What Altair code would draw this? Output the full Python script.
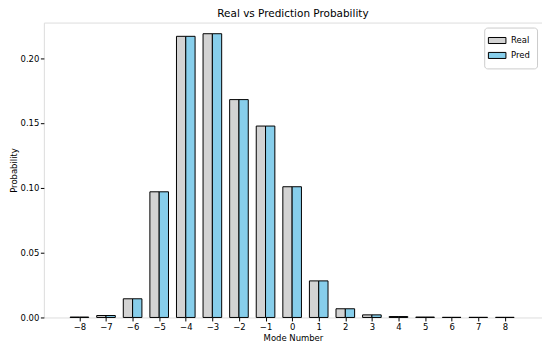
import altair as alt
import pandas as pd

modes = list(range(-8, 9))
real = [0.0003, 0.0015, 0.0144, 0.0969, 0.2168, 0.2188, 0.1680, 0.1476, 0.1008,
        0.0282, 0.0067, 0.0020, 0.0007, 0.0003, 0.0001, 0.0001, 0.0001]
pred = [0.0003, 0.0015, 0.0144, 0.0969, 0.2168, 0.2188, 0.1680, 0.1476, 0.1008,
        0.0282, 0.0067, 0.0020, 0.0007, 0.0003, 0.0001, 0.0001, 0.0001]
series_names = ["Real", "Pred"]
series_colors = ["lightgray", "skyblue"]

rows = []
for m, r, p in zip(modes, real, pred):
    rows.append({"mode": m, "series": "Real", "prob": r})
    rows.append({"mode": m, "series": "Pred", "prob": p})
df = pd.DataFrame(rows)

FONT = "DejaVu Sans"
BW = 0.35

chart = (
    alt.Chart(df)
    .transform_calculate(
        x0=f"datum.mode + (datum.series == 'Real' ? -{BW} : 0)",
        x1=f"datum.mode + (datum.series == 'Real' ? 0 : {BW})",
    )
    .mark_bar(stroke="black", strokeWidth=1, orient="vertical")
    .encode(
        x=alt.X(
            "x0:Q",
            scale=alt.Scale(domain=[-9.15, 9.21], nice=False, zero=False),
            axis=alt.Axis(
                values=modes,
                format="d",
                labelExpr="replace(datum.label, '-', '\u2212')",
                title="Mode Number",
                grid=False,
                domain=False,
                tickColor="black",
                tickSize=3.5,
                labelFontSize=8.5,
                labelColor="black",
                labelPadding=1.5,
                labelFont=FONT,
                titleFont=FONT,
                titleFontSize=8.5,
                titleFontWeight="normal",
                titleColor="black",
                titlePadding=3,
            ),
        ),
        x2="x1:Q",
        y=alt.Y(
            "prob:Q",
            scale=alt.Scale(domain=[0, 0.2274], nice=False),
            axis=alt.Axis(
                values=[0, 0.05, 0.10, 0.15, 0.20],
                format=".2f",
                title="Probability",
                grid=False,
                domain=False,
                tickColor="black",
                tickSize=3.5,
                labelFontSize=8.5,
                labelColor="black",
                labelPadding=1.5,
                labelFont=FONT,
                titleFont=FONT,
                titleFontSize=8.5,
                titleFontWeight="normal",
                titleColor="black",
                titlePadding=2,
            ),
        ),
        y2=alt.datum(0),
        fill=alt.Fill(
            "series:N",
            scale=alt.Scale(domain=series_names, range=series_colors),
            sort=series_names,
            legend=alt.Legend(
                title=None,
                orient="top-right",
                offset=5,
                padding=7,
                fillColor="white",
                strokeColor="#cccccc",
                cornerRadius=3,
                symbolType="M-1.6,-0.55H1.6V0.55H-1.6Z",
                symbolSize=121,
                symbolStrokeColor="black",
                symbolStrokeWidth=1,
                symbolOpacity=1,
                labelFontSize=8.5,
                labelColor="black",
                labelFont=FONT,
                labelOffset=8,
                rowPadding=3,
            ),
        ),
    )
    .properties(
        width=500,
        height=296,
        padding={"left": 36, "top": 14, "right": 0, "bottom": 24},
        autosize=alt.AutoSizeParams(type="none"),
        title=alt.Title(
            "Real vs Prediction Probability",
            fontSize=10.5,
            fontWeight="normal",
            font=FONT,
            color="black",
            offset=3,
        ),
    )
    .configure_view(stroke="black", strokeWidth=1)
    .configure(background="white")
)

chart.save("out.html", embed_options={"renderer": "svg", "actions": False})
